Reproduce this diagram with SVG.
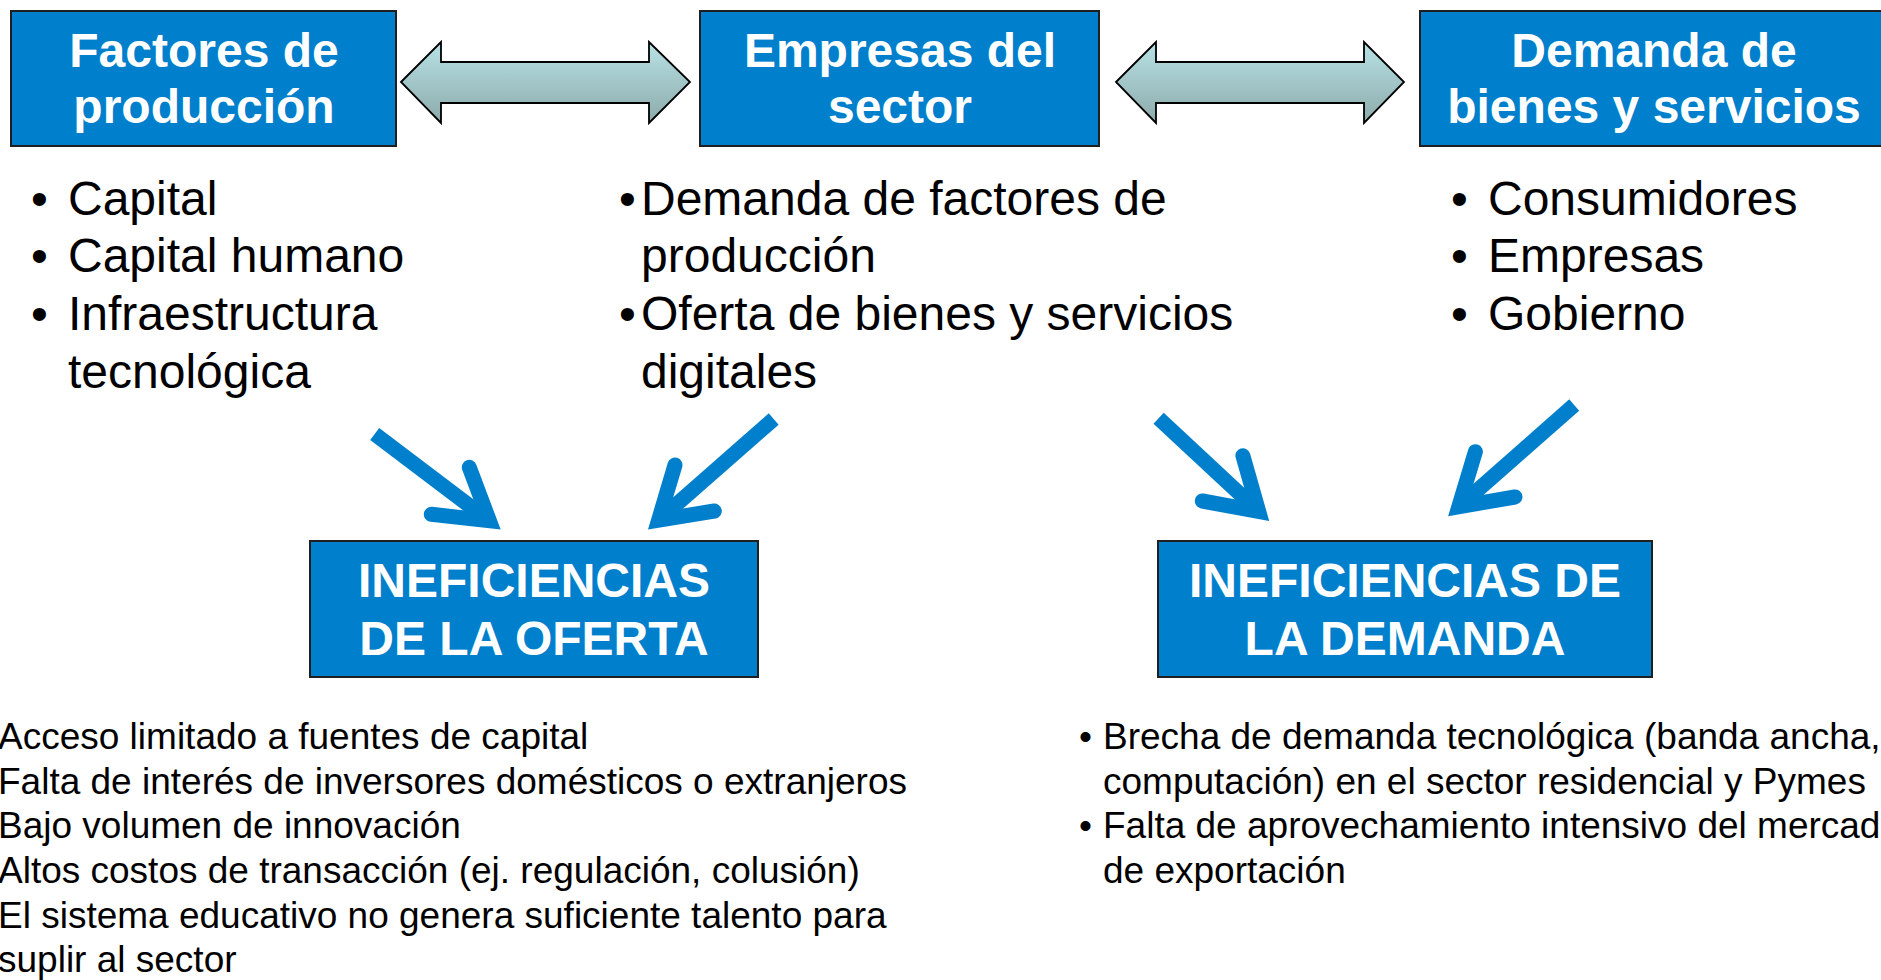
<svg xmlns="http://www.w3.org/2000/svg" width="1881" height="980" viewBox="0 0 1881 980">
<style>
.box{fill:#0080CC;stroke:#1f1f1f;stroke-width:2}
.title{font-family:"Liberation Sans",Arial,sans-serif;font-weight:bold;font-size:48px;fill:#ffffff;text-anchor:middle}
.body{font-family:"Liberation Sans",Arial,sans-serif;font-size:48px;fill:#000000}
.small{font-family:"Liberation Sans",Arial,sans-serif;font-size:37px;fill:#000000}
.dbl{fill:url(#grad);stroke:#000000;stroke-width:1.8;stroke-linejoin:miter}
.shaft{fill:none;stroke:#0080CC;stroke-width:15;stroke-linecap:butt}
.head{fill:none;stroke:#0080CC;stroke-width:15;stroke-linecap:round;stroke-linejoin:miter;stroke-miterlimit:10}
</style>
<defs>
<linearGradient id="grad" x1="0" y1="0" x2="0" y2="1">
<stop offset="0" stop-color="#B8E2E6"/>
<stop offset="1" stop-color="#8DAAAA"/>
</linearGradient>
</defs>
<rect width="1881" height="980" fill="#ffffff"/>

<g id="connectors">
<polygon class="dbl" points="401,82 441,42 441,62 649,62 649,42 690,82 649,123 649,103 441,103 441,123"/>
<polygon class="dbl" points="1116,82 1156,42 1156,62 1364,62 1364,42 1404,82 1364,123 1364,103 1156,103 1156,123"/>
<g id="arrow-oferta-1">
<line class="shaft" x1="374.7" y1="434" x2="489.4" y2="520.8"/>
<path class="head" d="M469.3,467.3 L489.4,520.8 L431.3,514.3"/>
</g>
<g id="arrow-oferta-2">
<line class="shaft" x1="773.7" y1="419" x2="658.6" y2="520.1"/>
<path class="head" d="M675,465 L658.6,520.1 L714.3,511"/>
</g>
<g id="arrow-demanda-1">
<line class="shaft" x1="1158.6" y1="418.3" x2="1258.7" y2="511.4"/>
<path class="head" d="M1242.9,455.7 L1258.7,511.4 L1202.3,501"/>
</g>
<g id="arrow-demanda-2">
<line class="shaft" x1="1574.2" y1="405" x2="1458.8" y2="506.7"/>
<path class="head" d="M1475.4,451.7 L1458.8,506.7 L1515,497"/>
</g>
</g>

<g id="factores">
<rect class="box" x="11" y="11" width="385" height="135"/>
<text class="title" x="204" y="67">Factores de</text>
<text class="title" x="204" y="123">producción</text>
</g>

<g id="empresas">
<rect class="box" x="700" y="11" width="399" height="135"/>
<text class="title" x="900" y="67">Empresas del</text>
<text class="title" x="900" y="123">sector</text>
</g>

<g id="demanda">
<rect class="box" x="1420" y="11" width="470" height="135"/>
<text class="title" x="1654" y="67">Demanda de</text>
<text class="title" x="1654" y="123">bienes y servicios</text>
</g>

<g id="factores-list">
<text class="body" x="31" y="215">•</text>
<text class="body" x="68" y="215">Capital</text>
<text class="body" x="31" y="272">•</text>
<text class="body" x="68" y="272">Capital humano</text>
<text class="body" x="31" y="330">•</text>
<text class="body" x="68" y="330">Infraestructura</text>
<text class="body" x="68" y="388">tecnológica</text>
</g>

<g id="empresas-list">
<text class="body" x="619" y="215">•</text>
<text class="body" x="641" y="215">Demanda de factores de</text>
<text class="body" x="641" y="272">producción</text>
<text class="body" x="619" y="330">•</text>
<text class="body" x="641" y="330">Oferta de bienes y servicios</text>
<text class="body" x="641" y="388">digitales</text>
</g>

<g id="demanda-list">
<text class="body" x="1451" y="215">•</text>
<text class="body" x="1488" y="215">Consumidores</text>
<text class="body" x="1451" y="272">•</text>
<text class="body" x="1488" y="272">Empresas</text>
<text class="body" x="1451" y="330">•</text>
<text class="body" x="1488" y="330">Gobierno</text>
</g>

<g id="ineficiencias-oferta">
<rect class="box" x="310" y="541" width="448" height="136"/>
<text class="title" x="534" y="597">INEFICIENCIAS</text>
<text class="title" x="534" y="655">DE LA OFERTA</text>
</g>

<g id="ineficiencias-demanda">
<rect class="box" x="1158" y="541" width="494" height="136"/>
<text class="title" x="1405" y="597">INEFICIENCIAS DE</text>
<text class="title" x="1405" y="655">LA DEMANDA</text>
</g>

<g id="oferta-list">
<text class="small" x="-2" y="749">Acceso limitado a fuentes de capital</text>
<text class="small" x="-2" y="794">Falta de interés de inversores domésticos o extranjeros</text>
<text class="small" x="-2" y="838">Bajo volumen de innovación</text>
<text class="small" x="-2" y="883">Altos costos de transacción (ej. regulación, colusión)</text>
<text class="small" x="-2" y="928">El sistema educativo no genera suficiente talento para</text>
<text class="small" x="-2" y="972">suplir al sector</text>
</g>

<g id="demanda-ineficiencias-list">
<text class="small" x="1079" y="749">•</text>
<text class="small" x="1103" y="749">Brecha de demanda tecnológica (banda ancha,</text>
<text class="small" x="1103" y="794">computación) en el sector residencial y Pymes</text>
<text class="small" x="1079" y="838">•</text>
<text class="small" x="1103" y="838">Falta de aprovechamiento intensivo del mercado</text>
<text class="small" x="1103" y="883">de exportación</text>
</g>
</svg>
